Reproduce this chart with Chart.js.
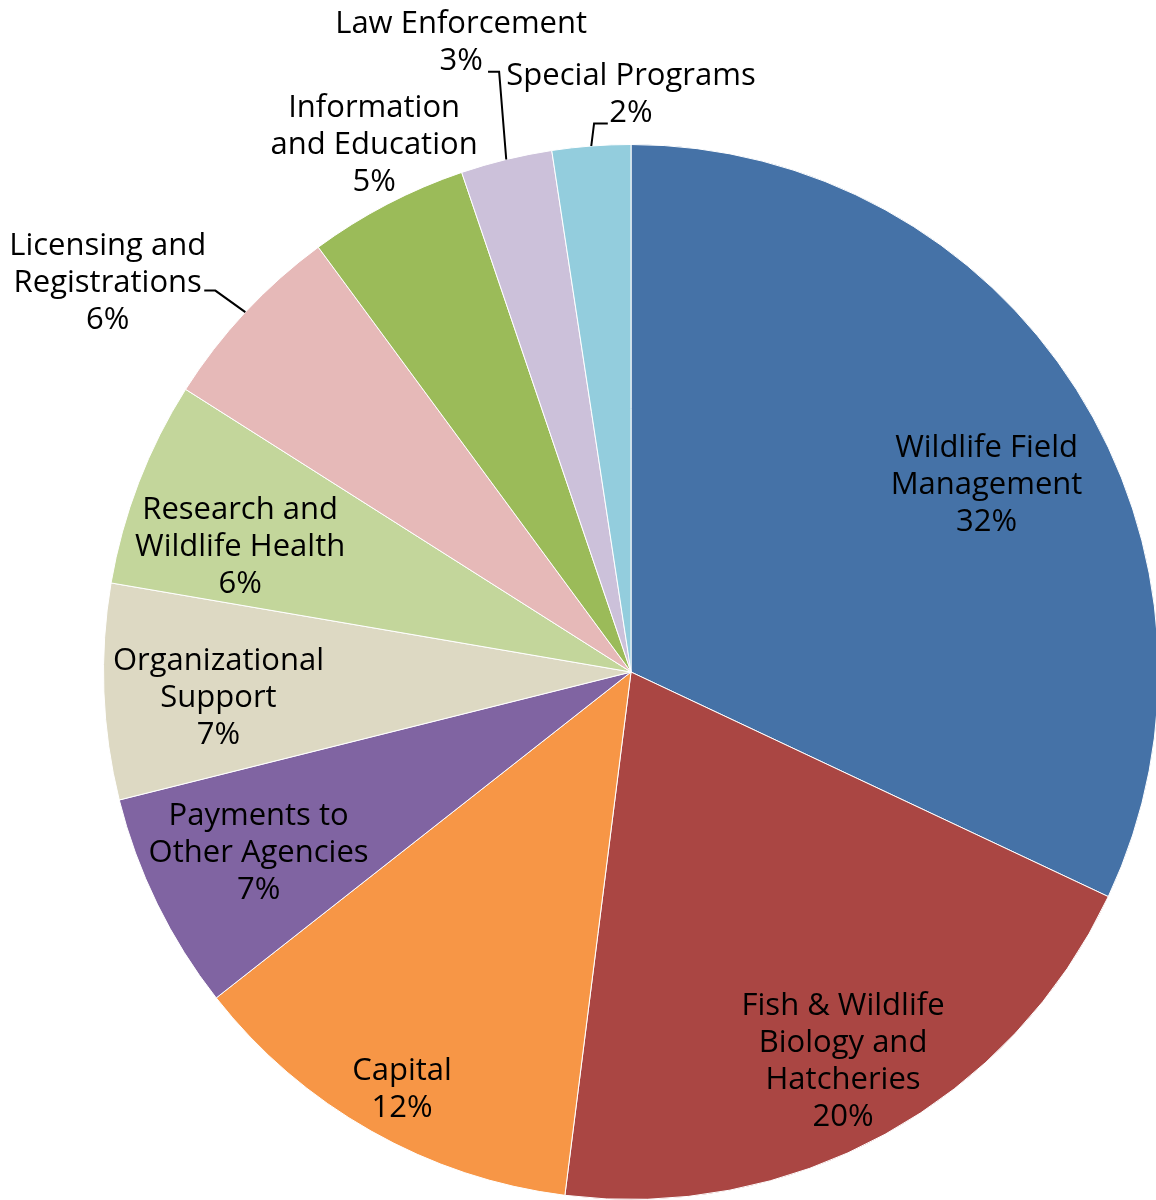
<!DOCTYPE html>
<html>
<head>
<meta charset="utf-8">
<script src="https://cdn.jsdelivr.net/npm/chart.js@4/dist/chart.umd.min.js"></script>
<style>
  html, body { margin: 0; padding: 0; background: #fff; overflow: hidden; }
  #wrap { position: relative; width: 1159px; height: 1200px; }
</style>
</head>
<body>
<div id="wrap"><canvas id="budgetPie" width="1159" height="1200"></canvas></div>
<script>
// ---- DATA ----
const categories = [
  ['Wildlife Field', 'Management'],
  ['Fish & Wildlife', 'Biology and', 'Hatcheries'],
  ['Capital'],
  ['Payments to', 'Other Agencies'],
  ['Organizational', 'Support'],
  ['Research and', 'Wildlife Health'],
  ['Licensing and', 'Registrations'],
  ['Information', 'and Education'],
  ['Law Enforcement'],
  ['Special Programs']
];
const shares = [32.0, 20.0, 12.4, 6.7, 6.6, 6.3, 5.9, 4.9, 2.8, 2.4];
const sliceColors = ['#4572a7', '#aa4643', '#f79646', '#8064a2', '#ddd9c3',
                     '#c3d69b', '#e6b9b8', '#9bbb59', '#ccc1da', '#93cddd'];

// label placement, in units of the pie radius from the centre
const labelSpots = [
  { dx: 0.674, dy: -0.358 },
  { dx: 0.402, dy: 0.735 },
  { dx: -0.434, dy: 0.788 },
  { dx: -0.706, dy: 0.339 },
  { dx: -0.782, dy: 0.045 },
  { dx: -0.741, dy: -0.241 },
  { dx: -0.992, dy: -0.741, leader: [[-0.788, -0.723], [-0.809, -0.723]] },
  { dx: -0.487, dy: -1.002 },
  { dx: -0.322, dy: -1.197, leader: [[-0.250, -1.138], [-0.271, -1.138]] },
  { dx: 0.000, dy: -1.098, leader: [[-0.070, -1.040], [-0.044, -1.040]] }
];

const FONT = '31px "Open Sans", sans-serif';
const LINE_H = 37;

// ---- LABELS ----
const sliceLabels = {
  id: 'sliceLabels',
  afterDatasetsDraw(chart) {
    const ctx = chart.ctx;
    const arcs = chart.getDatasetMeta(0).data;
    const total = shares.reduce((a, b) => a + b, 0);
    ctx.save();
    ctx.font = FONT;
    ctx.fillStyle = '#000';
    ctx.textAlign = 'center';
    ctx.textBaseline = 'middle';
    arcs.forEach((arc, i) => {
      const { x, y, startAngle, endAngle, outerRadius } = arc.getProps(['x', 'y', 'startAngle', 'endAngle', 'outerRadius'], true);
      const R = outerRadius;
      const spot = labelSpots[i];
      const lines = categories[i].concat([Math.round(shares[i] / total * 100) + '%']);
      const cx = x + spot.dx * R;
      const cy = y + spot.dy * R + 2;
      lines.forEach((t, k) => {
        ctx.fillText(t, cx, cy + (k - (lines.length - 1) / 2) * LINE_H);
      });
      if (spot.leader) {
        const mid = (startAngle + endAngle) / 2;
        ctx.beginPath();
        ctx.strokeStyle = '#000';
        ctx.lineWidth = 2;
        ctx.moveTo(x + Math.cos(mid) * R, y + Math.sin(mid) * R);
        spot.leader.forEach(p => ctx.lineTo(x + p[0] * R, y + p[1] * R));
        ctx.stroke();
      }
    });
    ctx.restore();
  }
};

// ---- CHART ----
new Chart(document.getElementById('budgetPie').getContext('2d'), {
  type: 'pie',
  data: {
    labels: categories.map(c => c.join(' ')),
    datasets: [{
      data: shares,
      backgroundColor: sliceColors,
      borderColor: '#ffffff',
      borderWidth: 1
    }]
  },
  options: {
    responsive: false,
    animation: false,
    layout: { padding: { left: 103, top: 144, right: 0, bottom: 0 } },
    plugins: {
      legend: { display: false },
      tooltip: { enabled: false }
    }
  },
  plugins: [sliceLabels]
});
</script>
</body>
</html>
